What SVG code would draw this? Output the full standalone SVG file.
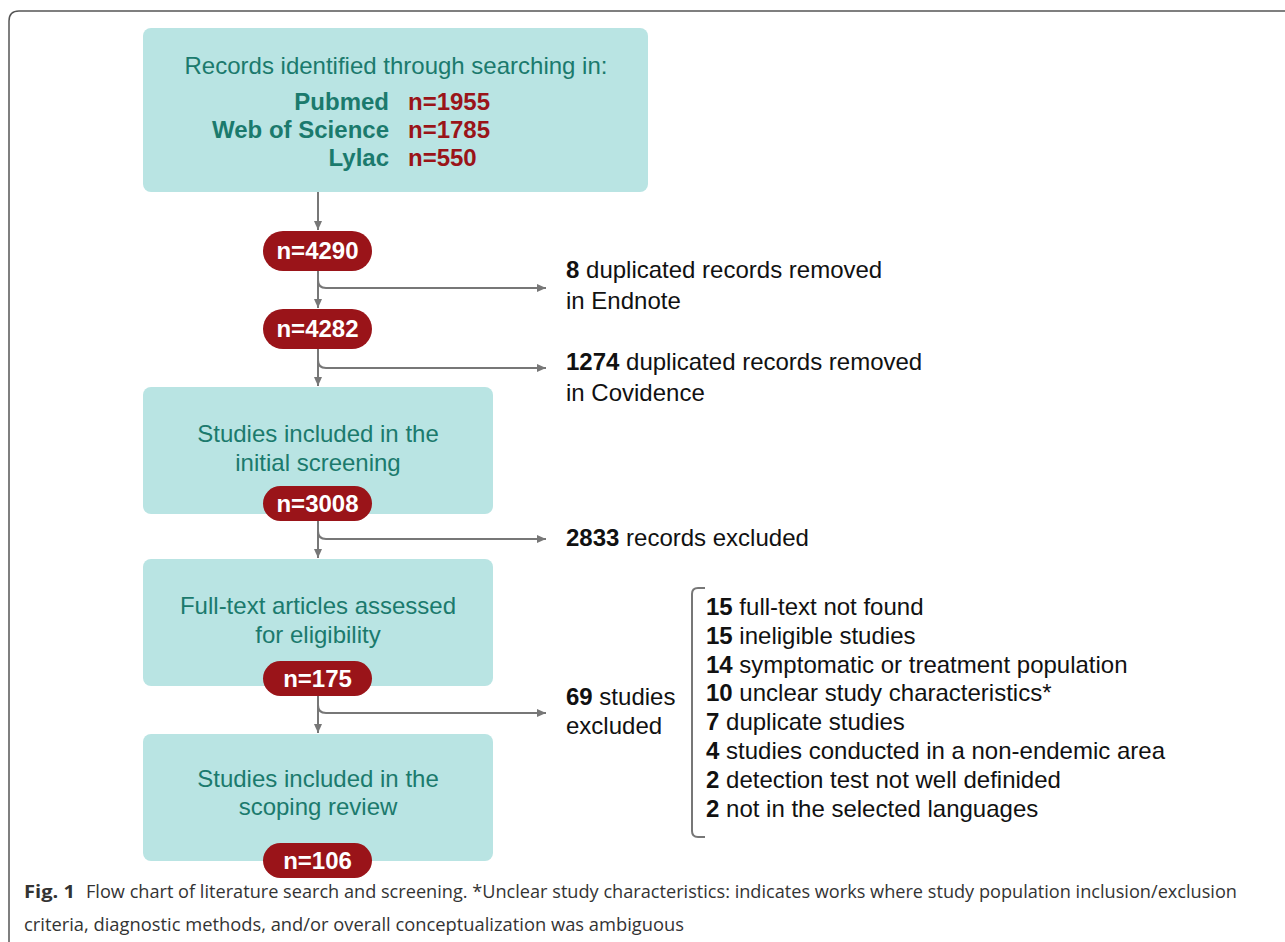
<svg xmlns="http://www.w3.org/2000/svg" width="1285" height="942" viewBox="0 0 1285 942">
<style>
.box{fill:#b9e4e3;}
.pill{fill:#9a1419;}
.bt{font-family:"Liberation Sans",Arial,sans-serif;font-size:24px;fill:#1b7a6d;}
.btb{font-family:"Liberation Sans",Arial,sans-serif;font-size:24px;font-weight:bold;fill:#1b7a6d;}
.rd{font-family:"Liberation Sans",Arial,sans-serif;font-size:24px;font-weight:bold;fill:#9a1419;}
.pt{font-family:"Liberation Sans",Arial,sans-serif;font-size:24px;font-weight:bold;fill:#ffffff;text-anchor:middle;}
.tx{font-family:"Liberation Sans",Arial,sans-serif;font-size:24px;fill:#111111;}
.cap{font-family:"Open Sans","Liberation Sans",sans-serif;font-size:18.5px;fill:#333333;}
.conn{fill:none;stroke:#777777;stroke-width:2;}
</style>
<defs>
<marker id="ah" markerUnits="userSpaceOnUse" markerWidth="10" markerHeight="10" refX="9" refY="5" orient="auto">
<path d="M0,1 L9,5 L0,9 z" fill="#777777"/>
</marker>
</defs>
<rect width="1285" height="942" fill="#ffffff"/>
<path d="M9,942 L9,21 Q9,11 19,11 L1285,11" fill="none" stroke="#555555" stroke-width="1.5"/>

<g id="connectors">
<line class="conn" x1="318" y1="192" x2="318" y2="230" marker-end="url(#ah)"/>
<line class="conn" x1="318" y1="271" x2="318" y2="308" marker-end="url(#ah)"/>
<path class="conn" d="M318,271 L318,280 Q318,288 326,288 L546,288" marker-end="url(#ah)"/>
<line class="conn" x1="318" y1="349" x2="318" y2="386" marker-end="url(#ah)"/>
<path class="conn" d="M318,349 L318,360 Q318,368 326,368 L546,368" marker-end="url(#ah)"/>
<line class="conn" x1="318" y1="521" x2="318" y2="558" marker-end="url(#ah)"/>
<path class="conn" d="M318,521 L318,531 Q318,539 326,539 L546,539" marker-end="url(#ah)"/>
<line class="conn" x1="318" y1="696" x2="318" y2="733" marker-end="url(#ah)"/>
<path class="conn" d="M318,696 L318,705 Q318,713 326,713 L546,713" marker-end="url(#ah)"/>
</g>

<g id="node-records">
<rect class="box" x="143" y="28" width="505" height="164" rx="8"/>
<text class="bt" x="396" y="74" text-anchor="middle">Records identified through searching in:</text>
<text class="btb" x="389" y="110" text-anchor="end">Pubmed</text>
<text class="rd" x="408" y="110">n=1955</text>
<text class="btb" x="389" y="138" text-anchor="end">Web of Science</text>
<text class="rd" x="408" y="138">n=1785</text>
<text class="btb" x="389" y="166" text-anchor="end">Lylac</text>
<text class="rd" x="408" y="166">n=550</text>
</g>

<g id="node-n4290">
<rect class="pill" x="263" y="231" width="109" height="40" rx="20"/>
<text class="pt" x="317.5" y="259">n=4290</text>
</g>

<g id="node-n4282">
<rect class="pill" x="263" y="309" width="109" height="40" rx="20"/>
<text class="pt" x="317.5" y="337">n=4282</text>
</g>

<g id="node-endnote">
<text class="tx" x="566" y="278"><tspan font-weight="bold">8</tspan> duplicated records removed</text>
<text class="tx" x="566" y="309">in Endnote</text>
</g>

<g id="node-covidence">
<text class="tx" x="566" y="370"><tspan font-weight="bold">1274</tspan> duplicated records removed</text>
<text class="tx" x="566" y="401">in Covidence</text>
</g>

<g id="node-initial">
<rect class="box" x="143" y="387" width="350" height="127" rx="8"/>
<text class="bt" x="318" y="442" text-anchor="middle">Studies included in the</text>
<text class="bt" x="318" y="471" text-anchor="middle">initial screening</text>
<rect class="pill" x="263" y="486" width="109" height="35" rx="17.5"/>
<text class="pt" x="317.5" y="512">n=3008</text>
</g>

<g id="node-excluded2833">
<text class="tx" x="566" y="546"><tspan font-weight="bold">2833</tspan> records excluded</text>
</g>

<g id="node-fulltext">
<rect class="box" x="143" y="559" width="350" height="127" rx="8"/>
<text class="bt" x="318" y="614" text-anchor="middle">Full-text articles assessed</text>
<text class="bt" x="318" y="643" text-anchor="middle">for eligibility</text>
<rect class="pill" x="263" y="661" width="109" height="35" rx="17.5"/>
<text class="pt" x="317.5" y="687">n=175</text>
</g>

<g id="node-excluded69">
<text class="tx" x="566" y="705"><tspan font-weight="bold">69</tspan> studies</text>
<text class="tx" x="566" y="734">excluded</text>
</g>

<g id="node-reasons">
<path d="M705,588 L698,588 Q692,588 692,594 L692,831 Q692,837 698,837 L705,837" fill="none" stroke="#777777" stroke-width="2"/>
<text class="tx" x="706" y="615"><tspan font-weight="bold">15</tspan> full-text not found</text>
<text class="tx" x="706" y="644"><tspan font-weight="bold">15</tspan> ineligible studies</text>
<text class="tx" x="706" y="673"><tspan font-weight="bold">14</tspan> symptomatic or treatment population</text>
<text class="tx" x="706" y="701"><tspan font-weight="bold">10</tspan> unclear study characteristics*</text>
<text class="tx" x="706" y="730"><tspan font-weight="bold">7</tspan> duplicate studies</text>
<text class="tx" x="706" y="759"><tspan font-weight="bold">4</tspan> studies conducted in a non-endemic area</text>
<text class="tx" x="706" y="788"><tspan font-weight="bold">2</tspan> detection test not well definided</text>
<text class="tx" x="706" y="817"><tspan font-weight="bold">2</tspan> not in the selected languages</text>
</g>

<g id="node-scoping">
<rect class="box" x="143" y="734" width="350" height="127" rx="8"/>
<text class="bt" x="318" y="787" text-anchor="middle">Studies included in the</text>
<text class="bt" x="318" y="815" text-anchor="middle">scoping review</text>
<rect class="pill" x="263" y="843" width="109" height="35" rx="17.5"/>
<text class="pt" x="317.5" y="869">n=106</text>
</g>

<g id="caption">
<text class="cap" x="24" y="898" font-weight="bold" fill="#222222" textLength="51" lengthAdjust="spacingAndGlyphs">Fig. 1</text>
<text class="cap" x="86" y="898" textLength="1151" lengthAdjust="spacingAndGlyphs">Flow chart of literature search and screening. *Unclear study characteristics: indicates works where study population inclusion/exclusion</text>
<text class="cap" x="24" y="931" textLength="660" lengthAdjust="spacingAndGlyphs">criteria, diagnostic methods, and/or overall conceptualization was ambiguous</text>
</g>
</svg>
